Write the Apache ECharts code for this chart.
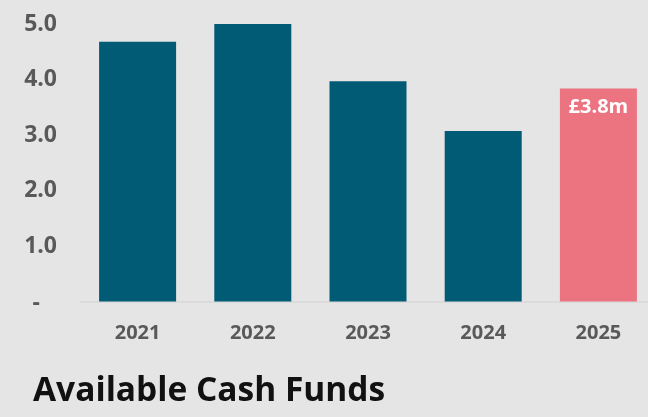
<!DOCTYPE html>
<html>
<head>
<meta charset="utf-8">
<script src="https://cdn.jsdelivr.net/npm/echarts@6/dist/echarts.min.js"></script>
<style>
  html, body { margin: 0; padding: 0; background: #e5e5e5; }
  #chart { width: 648px; height: 417px; }
</style>
</head>
<body>
<div id="chart"></div>
<script>
// Available cash funds by year (£m)
const years = ['2021', '2022', '2023', '2024', '2025'];
const cashFunds = [4.68, 5.0, 3.97, 3.07, 3.84];
const yTicks = [0, 1, 2, 3, 4, 5];
const highlightYear = '2025';

const teal = '#015b74';
const pink = '#ec7380';
const labelGrey = '#595959';
const font = '"Open Sans"';

const chart = echarts.init(document.getElementById('chart'), null, { renderer: 'canvas' });

chart.setOption({
  backgroundColor: '#e5e5e5',
  animation: false,
  title: {
    text: 'Available Cash Funds',
    left: 28,
    top: 369,
    textStyle: { fontFamily: font, fontWeight: 'bold', fontSize: 33.5, color: '#111111' }
  },
  grid: { left: 80, right: -8, top: 24, bottom: 115.5, outerBoundsMode: 'none', containLabel: false },
  xAxis: {
    type: 'category',
    data: years,
    axisLine: { show: true, lineStyle: { color: '#d8d8d8', width: 1.5 } },
    axisTick: { show: false },
    axisLabel: {
      margin: 22,
      fontFamily: font, fontWeight: 'bold', fontSize: 20, color: labelGrey
    }
  },
  yAxis: {
    type: 'value',
    min: yTicks[0],
    max: yTicks[yTicks.length - 1],
    interval: 1,
    splitLine: { show: false },
    axisLine: { show: false },
    axisTick: { show: false },
    axisLabel: {
      margin: 23,
      fontFamily: font, fontWeight: 'bold', fontSize: 23, color: labelGrey,
      formatter: v => v === 0 ? '{d|-}' : v.toFixed(1),
      rich: {
        d: { fontFamily: font, fontWeight: 'bold', fontSize: 23, color: labelGrey, padding: [4, 17, 0, 0] }
      }
    }
  },
  series: [{
    type: 'bar',
    barWidth: 77,
    data: cashFunds.map((v, i) => ({
      value: v,
      itemStyle: { color: years[i] === highlightYear ? pink : teal },
      label: {
        show: years[i] === highlightYear,
        position: 'insideTop',
        distance: 9,
        formatter: p => '£' + p.value.toFixed(1) + 'm',
        fontFamily: font, fontWeight: 'bold', fontSize: 20, color: '#ffffff'
      }
    }))
  }]
});
</script>
</body>
</html>
